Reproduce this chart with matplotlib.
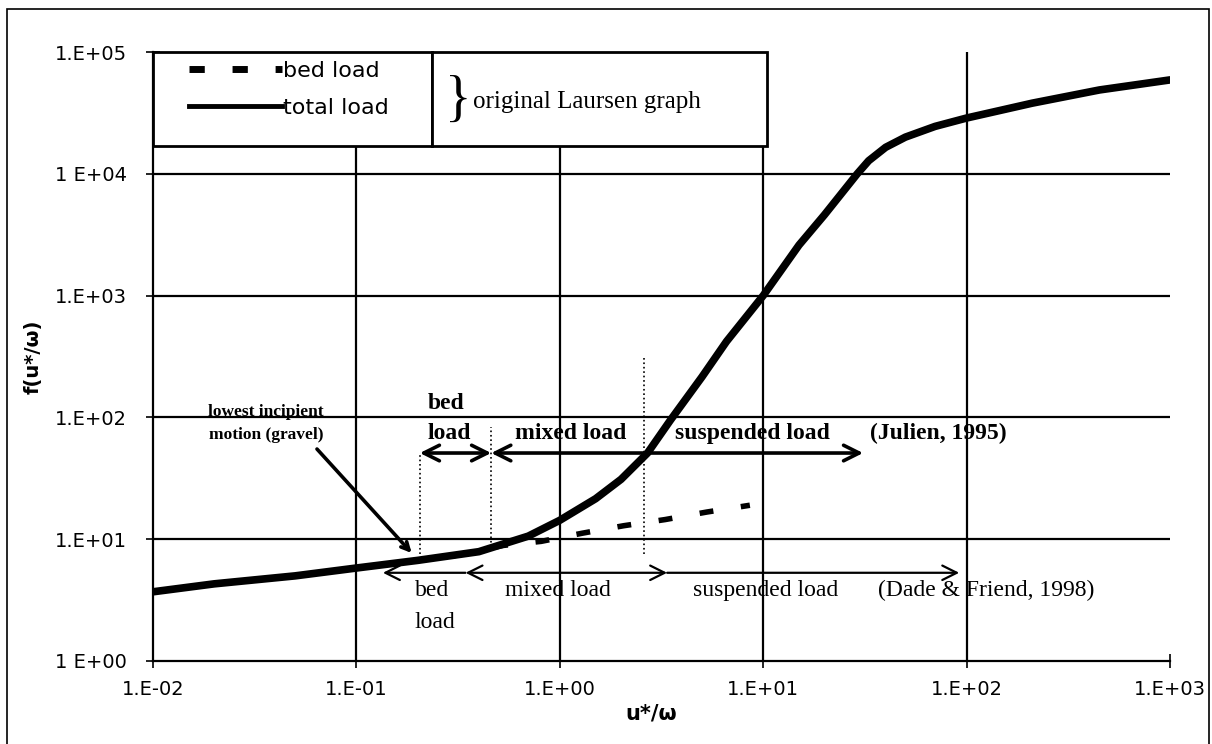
import matplotlib
matplotlib.use("Agg")
import matplotlib.pyplot as plt
from matplotlib.lines import Line2D
from matplotlib.patches import Rectangle

# original Laursen graph
total_x = [0.01, 0.02, 0.05, 0.1, 0.2, 0.4, 0.7, 1.0, 1.5, 2.0, 2.7, 3.5, 5.0, 6.6,
           10, 15, 20, 29, 33, 40, 50, 70, 100, 210, 450, 1000]
total_y = [3.7, 4.3, 5.0, 5.8, 6.7, 7.9, 10.6, 14.3, 21.5, 31, 51, 95, 215, 420,
           1000, 2600, 4600, 10000, 12800, 16500, 20000, 24500, 28700, 38000,
           48800, 59000]

bed_x = [0.3, 0.53, 0.81, 1.29, 2.06, 3.3, 5.27, 8.6]
bed_y = [7.3, 8.9, 9.6, 11.2, 12.9, 14.5, 16.7, 19.0]

x_ticks = [0.01, 0.1, 1, 10, 100, 1000]
x_labels = ["1.E-02", "1.E-01", "1.E+00", "1.E+01", "1.E+02", "1.E+03"]
y_ticks = [1, 10, 100, 1000, 10000, 100000]
y_labels = ["1 E+00", "1.E+01", "1.E+02", "1.E+03", "1 E+04", "1.E+05"]

# regime boundaries (dotted verticals)
div_x = [0.205, 0.46, 2.6]
div_lo = [7.5, 8.6, 7.5]
div_hi = [51, 84, 320]

julien_y = 51
julien_pts = [0.205, 0.46, 31]
dade_y = 5.3
dade_pts = [0.135, 0.344, 3.37, 92]

fig = plt.figure(figsize=(12.12, 7.44), dpi=100)
ax = fig.add_axes([153 / 1212, 83 / 744, 1017 / 1212, 609 / 744])
ax.set_xscale("log")
ax.set_yscale("log")
ax.set_xlim(0.01, 1000)
ax.set_ylim(1, 1e5)

for yv in y_ticks[1:-1]:
    ax.axhline(yv, color="black", lw=1.6, zorder=1)
for xv in x_ticks[1:-1]:
    ax.axvline(xv, color="black", lw=1.6, zorder=1)

ax.plot(total_x, total_y, color="black", lw=5.5, solid_capstyle="round",
        solid_joinstyle="round", zorder=3)
ax.plot(bed_x, bed_y, color="black", lw=4, ls=(0, (2.5, 5)), zorder=2)

for xv, lo, hi in zip(div_x, div_lo, div_hi):
    ax.plot([xv, xv], [lo, hi], color="black", lw=1.2, ls=":", zorder=2)

# Julien (1995) arrows
thick = dict(color="black", lw=2.6, mutation_scale=28, shrinkA=0, shrinkB=0)
ax.annotate("", xy=(julien_pts[0], julien_y), xytext=(julien_pts[1], julien_y),
            arrowprops=dict(arrowstyle="<->", **thick))
ax.annotate("", xy=(julien_pts[2], julien_y), xytext=(julien_pts[1], julien_y),
            arrowprops=dict(arrowstyle="<->", **thick))

# Dade & Friend (1998) arrows
thin = dict(color="black", lw=1.6, mutation_scale=26, shrinkA=0, shrinkB=0)
ax.annotate("", xy=(dade_pts[0], dade_y), xytext=(dade_pts[1], dade_y),
            arrowprops=dict(arrowstyle="->", **thin))
ax.annotate("", xy=(dade_pts[1], dade_y), xytext=(dade_pts[2], dade_y),
            arrowprops=dict(arrowstyle="<->", **thin))
ax.annotate("", xy=(dade_pts[3], dade_y), xytext=(dade_pts[2], dade_y),
            arrowprops=dict(arrowstyle="->", **thin))

serif = "Liberation Serif"
bold = dict(family=serif, fontsize=17, fontweight="bold", va="center", zorder=4)
ax.text(0.225, 131, "bed", **bold)
ax.text(0.225, 74, "load", **bold)
ax.text(0.6, 74, "mixed load", **bold)
ax.text(3.67, 74, "suspended load", **bold)
ax.text(33.6, 74, "(Julien, 1995)", **bold)

reg = dict(family=serif, fontsize=17, va="center", zorder=4)
ax.text(0.194, 3.8, "bed", **reg)
ax.text(0.194, 2.06, "load", **reg)
ax.text(0.54, 3.8, "mixed load", **reg)
ax.text(4.54, 3.8, "suspended load", **reg)
ax.text(36.6, 3.8, "(Dade & Friend, 1998)", **reg)

ax.text(0.036, 111, "lowest incipient", family=serif, fontsize=12.5,
        fontweight="bold", ha="center", va="center")
ax.text(0.036, 72, "motion (gravel)", family=serif, fontsize=12.5,
        fontweight="bold", ha="center", va="center")
ax.annotate("", xy=(0.187, 7.7), xytext=(0.064, 55),
            arrowprops=dict(arrowstyle="->", color="black", lw=2.6,
                            mutation_scale=14, shrinkA=0, shrinkB=0))

# legend boxes
ax.add_patch(Rectangle((0, 0.846), 0.274, 0.154, transform=ax.transAxes,
                       fc="white", ec="black", lw=2, zorder=5, clip_on=False))
ax.add_patch(Rectangle((0.274, 0.846), 0.33, 0.154, transform=ax.transAxes,
                       fc="white", ec="black", lw=2, zorder=5, clip_on=False))
handles = [Line2D([], [], color="black", lw=5, ls=(0, (2.2, 4.0))),
           Line2D([], [], color="black", lw=3.5)]
leg = ax.legend(handles, ["bed load", "total load"], loc="upper left",
                bbox_to_anchor=(0.035, 0.985), frameon=False, fontsize=16,
                handlelength=4.2, handletextpad=0.05, labelspacing=0.75,
                borderpad=0, borderaxespad=0)
leg.set_zorder(6)
ax.text(0.3, 0.918, "}", transform=ax.transAxes, family=serif, fontsize=40,
        ha="center", va="center", zorder=6)
ax.text(0.315, 0.918, "original Laursen graph", transform=ax.transAxes,
        family=serif, fontsize=18, va="center", zorder=6)

ax.set_xticks(x_ticks)
ax.set_xticklabels(x_labels)
ax.set_yticks(y_ticks)
ax.set_yticklabels(y_labels)
ax.minorticks_off()
ax.tick_params(direction="inout", length=10, width=1.2, labelsize=14)
ax.tick_params(axis="y", pad=14)
ax.tick_params(axis="x", pad=9)
for s in ["top", "right"]:
    ax.spines[s].set_visible(False)
for s in ["left", "bottom"]:
    ax.spines[s].set_linewidth(1.6)

ax.set_xlabel("u*/ω", fontsize=15, fontweight="bold")
ax.xaxis.set_label_coords(0.49, -0.07)
ax.set_ylabel("f(u*/ω)", fontsize=14, fontweight="bold")
ax.yaxis.set_label_coords(-0.109, 0.5)

fig.patches.append(Rectangle((7 / 1212, -0.1), 1202 / 1212, 1 - 9 / 744 + 0.1,
                             transform=fig.transFigure, fill=False,
                             ec="black", lw=1.2))

fig.savefig("out.png", dpi=100)
